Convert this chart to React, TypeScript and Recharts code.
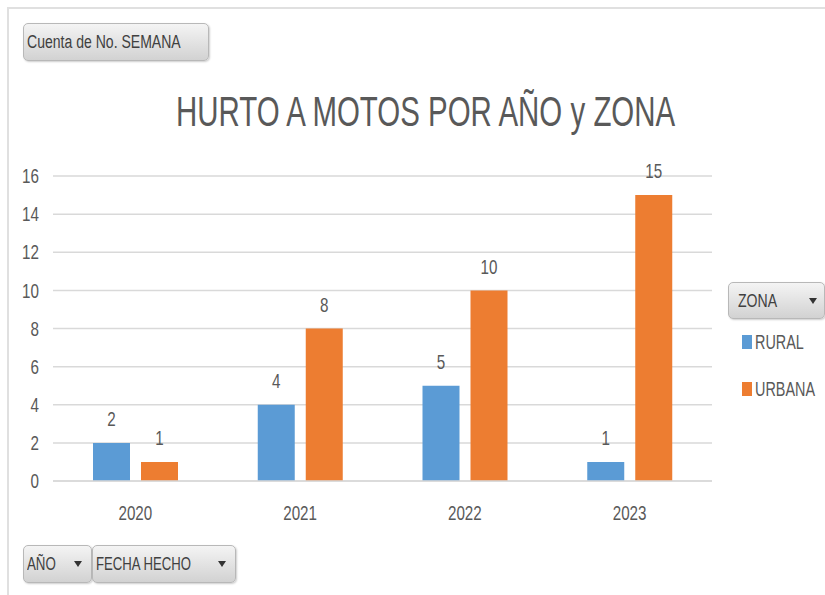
import React from 'react';
import { BarChart, Bar, XAxis, YAxis, CartesianGrid, LabelList } from 'recharts';

const years = ['2020', '2021', '2022', '2023'];
const rural = [2, 4, 5, 1];
const urbana = [1, 8, 10, 15];
const yTicks = [0, 2, 4, 6, 8, 10, 12, 14, 16];

const data = years.map((y, i) => ({ year: y, RURAL: rural[i], URBANA: urbana[i] }));

const FONT = '"Liberation Sans", Arial, sans-serif';
const TEXT = '#595959';
const SX = 0.76;
const FS = 20;

const Narrow = ({ children, size = 19, sx = 0.75, color = '#404040' }: any) => (
  <span style={{ display: 'inline-block', whiteSpace: 'nowrap', fontFamily: FONT, fontSize: size, color, transform: `scaleX(${sx})`, transformOrigin: 'left center' }}>
    {children}
  </span>
);

const btn: React.CSSProperties = {
  position: 'absolute',
  boxSizing: 'border-box',
  background: 'linear-gradient(#f4f4f4, #d2d2d2)',
  border: '1px solid #b8b8b8',
  borderRadius: 5,
  boxShadow: '1px 1px 2px rgba(0,0,0,0.2)',
  display: 'flex',
  alignItems: 'center',
  paddingLeft: 3,
  overflow: 'hidden',
};

const Arrow = ({ left }: { left: number }) => (
  <span style={{ position: 'absolute', left, top: 15, width: 0, height: 0, borderLeft: '4px solid transparent', borderRight: '4px solid transparent', borderTop: '6px solid #333' }} />
);

const XTick = ({ x, y, payload }: any) => (
  <g transform={`translate(${x},${y})`}>
    <text transform={`scale(${SX},1)`} textAnchor="middle" y={14.5} fill={TEXT} fontSize={FS} fontFamily={FONT}>{payload.value}</text>
  </g>
);

const YTick = ({ x, y, payload }: any) => (
  <g transform={`translate(${x},${y})`}>
    <text transform={`scale(${SX},1)`} textAnchor="end" y={7.2} fill={TEXT} fontSize={FS} fontFamily={FONT}>{payload.value}</text>
  </g>
);

const ValueLabel = ({ x, y, width, value }: any) => (
  <g transform={`translate(${x + width / 2},${y - 24})`}>
    <text transform={`scale(${SX},1)`} textAnchor="middle" y={7.2} fill={TEXT} fontSize={FS} fontFamily={FONT}>{value}</text>
  </g>
);

export default function App() {
  return (
    <div style={{ position: 'absolute', left: 0, top: 0, width: 825, height: 595, background: '#fff', overflow: 'hidden' }}>
      <div style={{ position: 'absolute', left: 7, top: 7, width: 830, height: 600, borderLeft: '2px solid #e0e0e0', borderTop: '2px solid #e0e0e0' }} />
      <BarChart
        width={825}
        height={595}
        data={data}
        margin={{ top: 176, right: 113, bottom: 74, left: 0 }}
        barGap={11}
        barSize={37}
      >
        <CartesianGrid horizontal vertical={false} stroke="#d9d9d9" strokeWidth={1.5} />
        <XAxis
          dataKey="year"
          height={40}
          axisLine={{ stroke: '#d9d9d9', strokeWidth: 1.5 }}
          tickLine={false}
          tickMargin={18}
          tick={<XTick />}
        />
        <YAxis
          width={53}
          domain={[0, 16]}
          ticks={yTicks}
          axisLine={false}
          tickLine={false}
          tickMargin={8}
          tick={<YTick />}
        />
        <Bar dataKey="RURAL" fill="#5b9bd5" isAnimationActive={false}>
          <LabelList dataKey="RURAL" content={<ValueLabel />} />
        </Bar>
        <Bar dataKey="URBANA" fill="#ed7d31" isAnimationActive={false}>
          <LabelList dataKey="URBANA" content={<ValueLabel />} />
        </Bar>
      </BarChart>

      <div style={{ position: 'absolute', left: 176, top: 87, width: 520, height: 50 }}>
        <span style={{ display: 'inline-block', whiteSpace: 'nowrap', fontFamily: FONT, fontSize: 43, color: TEXT, transform: 'scaleX(0.685)', transformOrigin: 'left top' }}>
          HURTO A MOTOS POR AÑO y ZONA
        </span>
      </div>

      <div style={{ ...btn, left: 23, top: 23, width: 186, height: 38 }}><Narrow size={18} sx={0.78}>Cuenta de No. SEMANA</Narrow></div>
      <div style={{ ...btn, left: 23, top: 545, width: 69, height: 38 }}><Narrow sx={0.7}>AÑO</Narrow><Arrow left={50} /></div>
      <div style={{ ...btn, left: 92, top: 545, width: 144, height: 38 }}><Narrow size={18} sx={0.73}>FECHA HECHO</Narrow><Arrow left={125} /></div>

      <div style={{ ...btn, left: 728, top: 282, width: 97, height: 37, paddingLeft: 9 }}><Narrow sx={0.74}>ZONA</Narrow><Arrow left={80} /></div>
      <div style={{ position: 'absolute', left: 742, top: 330, display: 'flex', alignItems: 'center', height: 24 }}>
        <span style={{ display: 'inline-block', width: 10, height: 14, background: '#5b9bd5', marginRight: 3 }} />
        <Narrow color={TEXT} size={20} sx={0.72}>RURAL</Narrow>
      </div>
      <div style={{ position: 'absolute', left: 742, top: 377, display: 'flex', alignItems: 'center', height: 24 }}>
        <span style={{ display: 'inline-block', width: 10, height: 14, background: '#ed7d31', marginRight: 3 }} />
        <Narrow color={TEXT} size={20} sx={0.72}>URBANA</Narrow>
      </div>
    </div>
  );
}
